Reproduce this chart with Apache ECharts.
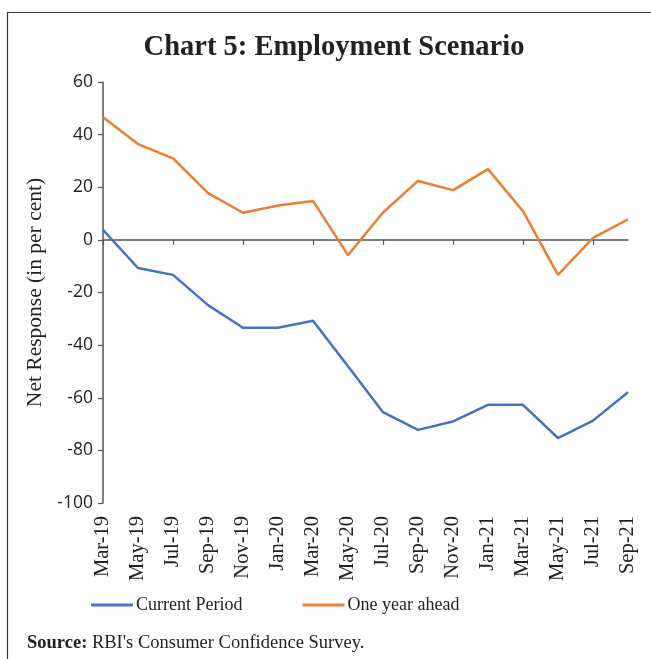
<!DOCTYPE html>
<html>
<head>
<meta charset="utf-8">
<script src="https://cdn.jsdelivr.net/npm/echarts@6/dist/echarts.min.js"></script>
<style>
  html, body { margin: 0; padding: 0; background: #fff; }
  #chart { width: 651px; height: 659px; }
</style>
</head>
<body>
<div id="chart"></div>
<script>
// Bi-monthly survey rounds
const months = ['Mar-19','May-19','Jul-19','Sep-19','Nov-19','Jan-20','Mar-20','May-20',
                'Jul-20','Sep-20','Nov-20','Jan-21','Mar-21','May-21','Jul-21','Sep-21'];

// Net response (per cent) on employment
const currentPeriod = [3.8, -10.7, -13.3, -24.8, -33.4, -33.4, -30.7, -48.0,
                       -65.5, -72.2, -69.0, -62.7, -62.7, -75.3, -68.7, -57.9];
const oneYearAhead = [46.6, 36.4, 31.0, 17.8, 10.3, 13.1, 14.8, -5.8,
                      10.4, 22.4, 18.9, 26.9, 10.9, -13.3, 0.8, 7.8];

const yTicks = { min: -100, max: 60, step: 20 };

const serif = 'Liberation Serif';
const axisColor = '#555';

const chart = echarts.init(document.getElementById('chart'), null, { renderer: 'canvas' });

chart.setOption({
  animation: false,
  backgroundColor: '#fff',
  title: {
    text: 'Chart 5: Employment Scenario',
    left: 329, top: 28, textAlign: 'center',
    textStyle: { fontFamily: serif, fontWeight: 'bold', fontSize: 28.5, color: '#222' }
  },
  graphic: [
    {
      type: 'rect', silent: true,
      shape: { x: 7.5, y: 12.5, width: 700, height: 700 },
      style: { fill: 'none', stroke: '#333', lineWidth: 1.2 }
    },
    {
      type: 'text', left: 27, top: 634,
      style: {
        text: '{b|Source:} RBI\'s Consumer Confidence Survey.',
        rich: {
          b: { fontFamily: serif, fontWeight: 'bold', fontSize: 18.5, fill: '#222' }
        },
        fontFamily: serif, fontSize: 18.5, fill: '#222'
      }
    }
  ],
  legend: {
    top: 591, left: 86,
    itemWidth: 42, itemHeight: 3, itemGap: 60,
    icon: 'rect',
    textStyle: { fontFamily: serif, fontSize: 18, color: '#222', padding: [0, 0, 0, -2] },
    data: ['Current Period', 'One year ahead']
  },
  grid: { left: 103, right: 23, top: 82, bottom: 156, containLabel: false },
  xAxis: [
    {
      type: 'category', data: months, boundaryGap: false,
      axisLine: { onZero: true, lineStyle: { color: axisColor, width: 1.5 } },
      axisTick: { show: true, length: 5, lineStyle: { color: axisColor, width: 1.2 } },
      axisLabel: { show: false }
    },
    {
      type: 'category', data: months, boundaryGap: false, position: 'bottom',
      axisLine: { show: false, onZero: false },
      axisTick: { show: false },
      axisLabel: {
        rotate: 90, margin: 13, interval: 0,
        fontFamily: serif, fontSize: 20.5, color: '#222'
      }
    }
  ],
  yAxis: {
    type: 'value', min: yTicks.min, max: yTicks.max, interval: yTicks.step,
    name: 'Net Response (in per cent)', nameLocation: 'middle', nameRotate: 90, nameGap: 44,
    nameTextStyle: { fontFamily: serif, fontSize: 21.5, color: '#222' },
    splitLine: { show: false },
    axisLine: { show: true, lineStyle: { color: axisColor, width: 1.5 } },
    axisTick: { show: true, length: 5, lineStyle: { color: axisColor, width: 1.2 } },
    axisLabel: { margin: 10, fontFamily: 'Open Sans', fontSize: 17.5, color: '#222' }
  },
  series: [
    {
      name: 'Current Period', type: 'line', data: currentPeriod,
      xAxisIndex: 0, showSymbol: false, symbol: 'none',
      lineStyle: { color: '#4472C4', width: 2.5 },
      itemStyle: { color: '#4472C4' }
    },
    {
      name: 'One year ahead', type: 'line', data: oneYearAhead,
      xAxisIndex: 0, showSymbol: false, symbol: 'none',
      lineStyle: { color: '#ED7D31', width: 2.5 },
      itemStyle: { color: '#ED7D31' }
    }
  ]
});
</script>
</body>
</html>
